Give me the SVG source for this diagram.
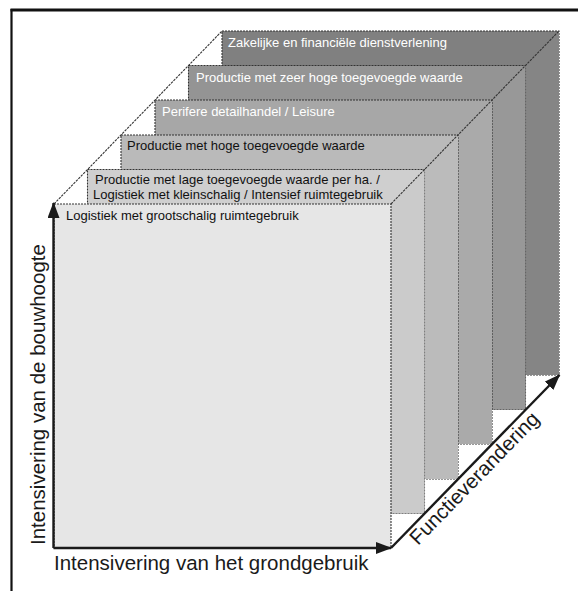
<svg xmlns="http://www.w3.org/2000/svg" width="578" height="591" viewBox="0 0 578 591">
  <style>
    .face { stroke: #333; stroke-width: 1.1; stroke-dasharray: 2 1; }
    .edge { fill: none; stroke: #333; stroke-width: 1.1; stroke-dasharray: 2.5 1; }
    .lbl { font-family: "Liberation Sans", Arial, sans-serif; font-size: 13px; }
    .dark { fill: #111; }
    .light { fill: #fff; }
    .axis-lbl { font-family: "Liberation Sans", Arial, sans-serif; font-size: 20.5px; fill: #1a1a1a; }
    .axis { stroke: #1a1a1a; stroke-width: 2.4; fill: none; }
  </style>
  <defs>
    <marker id="head" viewBox="0 0 16 12" refX="15" refY="6" markerWidth="16" markerHeight="12" markerUnits="userSpaceOnUse" orient="auto">
      <path d="M0,0 L16,6 L0,12 Z" fill="#1a1a1a"/>
    </marker>
  </defs>

  <rect width="578" height="591" fill="#fff"/>

  <!-- frame -->
  <g id="frame" stroke="#111" fill="none">
    <line x1="11.5" y1="9" x2="11.5" y2="591" stroke-width="2.2"/>
    <line x1="10.5" y1="10" x2="578" y2="10" stroke-width="3"/>
  </g>

  <!-- layers, back to front -->
  <g id="layer6">
    <rect class="face" x="222" y="31" width="337" height="344" fill="#808080"/>
    <polygon points="525.5,65.5 559,31 559,375 525.5,375" fill="#858585"/>
    <text class="lbl light" x="228" y="47">Zakelijke en financiële dienstverlening</text>
  </g>
  <g id="layer5">
    <rect class="face" x="188.5" y="65.5" width="337" height="344" fill="#949494"/>
    <polygon points="492,100 525.5,65.5 525.5,409.5 492,409.5" fill="#989898"/>
    <text class="lbl light" x="196" y="81.5">Productie met zeer hoge toegevoegde waarde</text>
  </g>
  <g id="layer4">
    <rect class="face" x="155" y="100" width="337" height="344" fill="#a7a7a7"/>
    <polygon points="458,135 492,100 492,444 458,444" fill="#aaaaaa"/>
    <text class="lbl light" x="162" y="116">Perifere detailhandel / Leisure</text>
  </g>
  <g id="layer3">
    <rect class="face" x="121" y="135" width="337" height="344" fill="#bababa"/>
    <polygon points="424.5,169.5 458,135 458,479 424.5,479" fill="#bbbbbb"/>
    <text class="lbl dark" x="127" y="150">Productie met hoge toegevoegde waarde</text>
  </g>
  <g id="layer2">
    <rect class="face" x="87.5" y="169.5" width="337" height="344" fill="#cfcfcf"/>
    <polygon points="391,204 424.5,169.5 424.5,513.5 391,513.5" fill="#cbcbcb"/>
    <text class="lbl dark" x="95" y="183.5">Productie met lage toegevoegde waarde per ha. /</text>
    <text class="lbl dark" x="93" y="198.5">Logistiek met kleinschalig / Intensief ruimtegebruik</text>
  </g>
  <g id="layer1">
    <rect class="face" x="54" y="204" width="337" height="344" fill="#e6e6e6"/>
    <text class="lbl dark" x="66" y="220">Logistiek met grootschalig ruimtegebruik</text>
  </g>

  <!-- connectors: perspective edges and axes -->
  <g id="connectors">
    <line class="edge" x1="54" y1="204" x2="222" y2="31"/>
    <line class="edge" x1="391" y1="204" x2="559" y2="31"/>
    <line class="axis" x1="53.5" y1="548" x2="53.5" y2="203" marker-end="url(#head)"/>
    <line class="axis" x1="53.5" y1="548" x2="391" y2="548" marker-end="url(#head)"/>
    <line class="axis" x1="391" y1="548" x2="559.5" y2="375" marker-end="url(#head)"/>
  </g>

  <!-- axis labels -->
  <g id="axis-labels">
    <text class="axis-lbl" x="54" y="570">Intensivering van het grondgebruik</text>
    <text class="axis-lbl" transform="translate(45,545) rotate(-90)">Intensivering van de bouwhoogte</text>
    <text class="axis-lbl" transform="translate(418,546) rotate(-45.8)">Functieverandering</text>
  </g>
</svg>
